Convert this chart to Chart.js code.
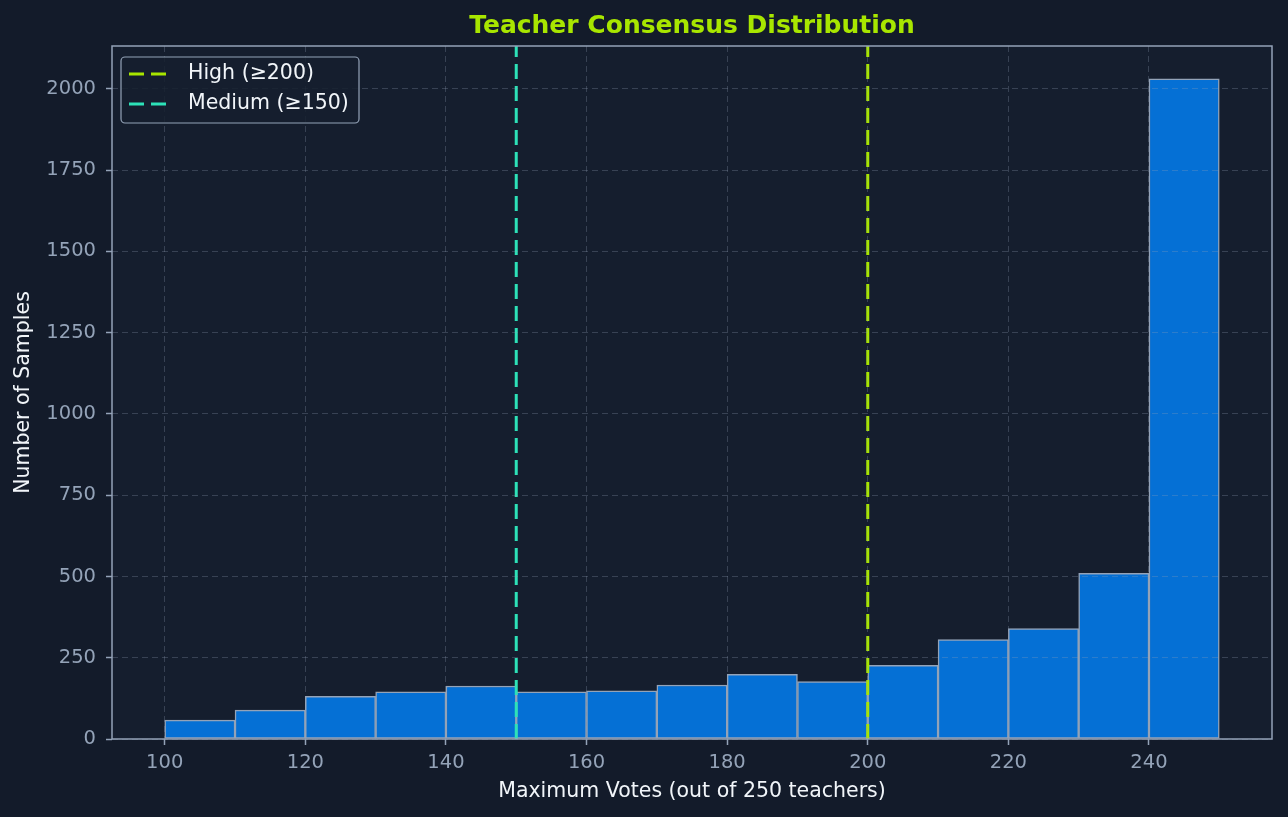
<!DOCTYPE html>
<html>
<head>
<meta charset="utf-8">
<script src="https://cdn.jsdelivr.net/npm/chart.js@4.4.1/dist/chart.umd.min.js"></script>
<style>
  html, body { margin: 0; padding: 0; background: #131b2a; }
  #wrap { width: 1288px; height: 817px; }
</style>
</head>
<body>
<div id="wrap"><canvas id="chart"></canvas></div>
<script>
// histogram bins (left edges, width 10) and counts
const binStarts = [100, 110, 120, 130, 140, 150, 160, 170, 180, 190, 200, 210, 220, 230, 240];
const counts = [58, 89, 131, 145, 163, 145, 148, 166, 199, 177, 227, 306, 340, 510, 2031];
const binWidth = 10;

// thresholds
const thresholdLabels = ['High (\u2265200)', 'Medium (\u2265150)'];
const thresholdValues = [200, 150];
const thresholdColors = ['#a8e600', '#2de2b8'];

const xTicks = [100, 120, 140, 160, 180, 200, 220, 240];
const yTicks = [0, 250, 500, 750, 1000, 1250, 1500, 1750, 2000];

const yMax = 2132;
const font = 'DejaVu Sans';

const barData = binStarts.map((s, i) => ({ x: s + binWidth / 2, y: counts[i] }));

const lineSets = thresholdValues.map((v, i) => ({
    type: 'line',
    label: thresholdLabels[i],
    data: [{ x: v, y: 0 }, { x: v, y: yMax }],
    borderColor: thresholdColors[i],
    borderWidth: 3,
    borderDash: [15, 7],
    pointRadius: 0,
    fill: false,
    order: 0
}));

const framePlugin = {
    id: 'frame',
    beforeDraw(chart) {
        const { ctx, chartArea: a } = chart;
        ctx.save();
        ctx.fillStyle = '#131b2a';
        ctx.fillRect(0, 0, chart.width, chart.height);
        ctx.fillStyle = '#151e2e';
        ctx.fillRect(a.left, a.top, a.right - a.left, a.bottom - a.top);
        ctx.restore();
    },
    afterDraw(chart) {
        const { ctx, chartArea: a } = chart;
        ctx.save();
        ctx.strokeStyle = '#94a3b8';
        ctx.lineWidth = 1.5;
        ctx.strokeRect(a.left, a.top, a.right - a.left, a.bottom - a.top);

        // title
        ctx.fillStyle = '#a8e600';
        ctx.font = 'bold 25px "' + font + '"';
        ctx.textAlign = 'center';
        ctx.textBaseline = 'middle';
        ctx.fillText('Teacher Consensus Distribution', (a.left + a.right) / 2, 26);

        // legend box
        const bx = a.left + 9, by = a.top + 11, bw = 238, bh = 66;
        ctx.beginPath();
        ctx.roundRect(bx, by, bw, bh, 4);
        ctx.fillStyle = 'rgba(21,30,46,0.85)';
        ctx.fill();
        ctx.strokeStyle = '#94a3b8';
        ctx.lineWidth = 1.2;
        ctx.stroke();

        ctx.font = '20.5px "' + font + '"';
        ctx.textAlign = 'left';
        thresholdLabels.forEach((lab, i) => {
            const y = by + 17 + i * 30;
            ctx.beginPath();
            ctx.setLineDash([15, 7]);
            ctx.strokeStyle = thresholdColors[i];
            ctx.lineWidth = 3;
            ctx.moveTo(bx + 8, y);
            ctx.lineTo(bx + 47, y);
            ctx.stroke();
            ctx.setLineDash([]);
            ctx.fillStyle = '#f1f5f9';
            ctx.fillText(lab, bx + 67, y);
        });
        ctx.restore();
    }
};

const gridOpts = {
    z: 1,
    color: 'rgba(148,163,184,0.28)',
    lineWidth: 1,
    tickLength: 6,
    tickColor: '#94a3b8',
    tickBorderDash: [],
    tickWidth: 1.5
};

const config = {
    type: 'bar',
    data: {
        datasets: [
            {
                label: 'Samples',
                data: barData,
                backgroundColor: '#0570d5',
                borderColor: '#94a3b8',
                borderWidth: 1.5,
                borderSkipped: false,
                barPercentage: 1.0,
                categoryPercentage: 1.0,
                order: 1
            },
            ...lineSets
        ]
    },
    options: {
        responsive: true,
        maintainAspectRatio: false,
        animation: false,
        layout: { padding: { top: 46, right: 16, left: 0, bottom: 0 } },
        plugins: {
            legend: { display: false },
            title: { display: false },
            tooltip: { enabled: false }
        },
        scales: {
            x: {
                type: 'linear',
                min: 92.5,
                max: 257.5,
                offset: false,
                afterFit: s => { s.height = 78; },
                afterBuildTicks: s => { s.ticks = xTicks.map(v => ({ value: v })); },
                ticks: {
                    color: '#94a3b8',
                    font: { family: font, size: 19.5 },
                    padding: 6,
                    maxRotation: 0,
                    autoSkip: false,
                    callback: v => String(v)
                },
                grid: Object.assign({ offset: false }, gridOpts),
                border: { display: false, dash: [6, 4] },
                title: {
                    display: true,
                    text: 'Maximum Votes (out of 250 teachers)',
                    color: '#f1f5f9',
                    font: { family: font, size: 20.5 },
                    padding: { top: 0, bottom: 13.5 }
                }
            },
            y: {
                min: 0,
                max: yMax,
                afterFit: s => { s.width = 112; },
                afterBuildTicks: s => { s.ticks = yTicks.map(v => ({ value: v })); },
                ticks: {
                    color: '#94a3b8',
                    font: { family: font, size: 19.5 },
                    padding: 10,
                    autoSkip: false,
                    callback: v => String(v)
                },
                grid: gridOpts,
                border: { display: false, dash: [6, 4] },
                title: {
                    display: true,
                    text: 'Number of Samples',
                    color: '#f1f5f9',
                    font: { family: font, size: 20.5 },
                    padding: { top: 11.5, bottom: 0 }
                }
            }
        }
    },
    plugins: [framePlugin]
};

new Chart(document.getElementById('chart').getContext('2d'), config);
</script>
</body>
</html>
